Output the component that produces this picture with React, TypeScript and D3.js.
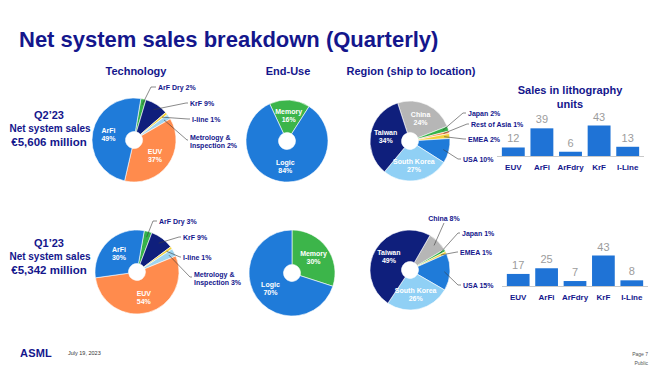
import React from "react"
import * as d3 from "d3"

// chart values
const techLabels = ["ArF Dry", "KrF", "I-line", "Metrology & Inspection", "EUV", "ArFi"]
const techQ2 = [2, 9, 1, 2, 37, 49]
const techQ1 = [3, 9, 1, 3, 54, 30]
const techColors = ["#35b24a", "#0f1f7c", "#f3d23c", "#9fd4ef", "#ff8b4d", "#1f7bd9"]

const endUseLabels = ["Memory", "Logic"]
const endUseQ2 = [16, 84]
const endUseQ1 = [30, 70]
const endUseColors = ["#3cb54a", "#1f7bd9"]

const regionLabelsQ2 = ["China", "Japan", "Rest of Asia", "EMEA", "USA", "South Korea", "Taiwan"]
const regionQ2 = [24, 2, 1, 2, 10, 27, 34]
const regionColorsQ2 = ["#b6b6b6", "#35b24a", "#ff8b4d", "#f3d23c", "#1f7bd9", "#90d0f5", "#0f1f7c"]
const regionLabelsQ1 = ["China", "Japan", "EMEA", "USA", "South Korea", "Taiwan"]
const regionQ1 = [8, 1, 1, 15, 26, 49]
const regionColorsQ1 = ["#b6b6b6", "#35b24a", "#f3d23c", "#1f7bd9", "#90d0f5", "#0f1f7c"]

const unitCategories = ["EUV", "ArFi", "ArFdry", "KrF", "I-Line"]
const unitsQ2 = [12, 39, 6, 43, 13]
const unitsQ1 = [17, 25, 7, 43, 8]

const NAVY = "#14168c"
const FONT = "'Liberation Sans', Arial, sans-serif"

const rad = a => (a * Math.PI) / 180

// a donut with inside labels and outside leader labels
const Donut = ({ cx, cy, r, values, labels, colors, start, inside, outside }) => {
  const pie = d3.pie().sort(null).value(d => d).startAngle(rad(start)).endAngle(rad(start) + 2 * Math.PI)
  const arcs = pie(values)
  const arc = d3.arc().innerRadius(8.5).outerRadius(r)
  const labelArc = d3.arc().innerRadius(r * 0.62).outerRadius(r * 0.62)
  const edgeArc = d3.arc().innerRadius(r * 0.86).outerRadius(r * 0.86)
  return (
    <g>
      <g transform={`translate(${cx},${cy})`}>
        {arcs.map((a, i) => (
          <path key={i} d={arc(a)} fill={colors[i]} stroke="#fff" strokeWidth={0.6} />
        ))}
        {arcs.map((a, i) => {
          if (!inside.includes(i)) return null
          const [x, y] = labelArc.centroid(a)
          return (
            <text key={"t" + i} x={x} y={y} fill="#fff" fontSize={7} fontWeight="bold" textAnchor="middle">
              <tspan x={x} dy={-1.5}>{labels[i]}</tspan>
              <tspan x={x} dy={8}>{values[i]}%</tspan>
            </text>
          )
        })}
      </g>
      {outside.map(o => {
        const [sx, sy] = edgeArc.centroid(arcs[o.i])
        const lines = o.lines || [`${labels[o.i]} ${values[o.i]}%`]
        const anchor = o.anchor || "start"
        const tx = anchor === "middle" ? o.ex : o.tx
        return (
          <g key={"o" + o.i}>
            <polyline
              points={
                anchor === "middle"
                  ? `${cx + sx},${cy + sy} ${o.ex},${o.ey}`
                  : `${cx + sx},${cy + sy} ${o.ex},${o.ey} ${o.tx - 2},${o.ey}`
              }
              fill="none"
              stroke="#3a3a3a"
              strokeWidth={0.6}
            />
            {lines.map((l, k) => (
              <text key={k} x={tx} y={o.ty + 2.5 + k * 8} fill={NAVY} fontSize={7} fontWeight="bold" textAnchor={anchor}>
                {l}
              </text>
            ))}
          </g>
        )
      })}
    </g>
  )
}

const Bars = ({ values, x0, x1, base }) => {
  const x = d3.scaleBand().domain(unitCategories).range([x0, x1]).paddingInner(0.2).paddingOuter(0.1)
  const y = d3.scaleLinear().domain([0, 43]).range([base, base - 30.5])
  return (
    <g>
      {values.map((v, i) => (
        <g key={i}>
          <rect x={x(unitCategories[i])} y={y(v)} width={x.bandwidth()} height={base - y(v)} fill="#1f73d6" />
          <text x={x(unitCategories[i]) + x.bandwidth() / 2} y={y(v) - 5} fontSize={11} fill="#9c9c9c" textAnchor="middle">
            {v}
          </text>
          <text x={x(unitCategories[i]) + x.bandwidth() / 2} y={base + 14} fontSize={8} fontWeight="bold" fill={NAVY} textAnchor="middle">
            {unitCategories[i]}
          </text>
        </g>
      ))}
      <line x1={x0 - 2} x2={x1 + 2} y1={base + 0.5} y2={base + 0.5} stroke="#c9c9c9" strokeWidth={1} />
    </g>
  )
}

const QuarterText = ({ q, amount, y }) => (
  <g fill={NAVY} fontWeight="bold" textAnchor="middle">
    <text x={49} y={y} fontSize={11}>{q}</text>
    <text x={50} y={y + 13} fontSize={10}>Net system sales</text>
    <text x={49} y={y + 27} fontSize={11.5}>{amount}</text>
  </g>
)

export default function App() {
  return (
    <svg width={656} height={369} style={{ position: "absolute", left: 0, top: 0, background: "#fff" }} fontFamily={FONT}>
      <rect width={656} height={369} fill="#fff" />
      <text x={19} y={47} fontSize={22} fontWeight="bold" fill={NAVY}>
        Net system sales breakdown (Quarterly)
      </text>
      <g fontSize={11} fontWeight="bold" fill={NAVY} textAnchor="middle">
        <text x={136} y={75}>Technology</text>
        <text x={288} y={75}>End-Use</text>
        <text x={411} y={75}>Region (ship to location)</text>
        <text x={570} y={94}>Sales in lithography</text>
        <text x={570} y={108}>units</text>
      </g>

      <QuarterText q="Q2’23" amount="€5,606 million" y={119} />
      <QuarterText q="Q1’23" amount="€5,342 million" y={247} />

      <Donut
        cx={134} cy={140} r={42} values={techQ2} labels={techLabels} colors={techColors} start={9.4}
        inside={[4, 5]}
        outside={[
          { i: 0, ex: 151, ey: 87, tx: 158, ty: 87 },
          { i: 1, ex: 186, ey: 103, tx: 190, ty: 103 },
          { i: 2, ex: 188, ey: 119, tx: 192, ty: 119 },
          { i: 3, ex: 187, ey: 140, tx: 190, ty: 137, lines: ["Metrology &", `Inspection ${techQ2[3]}%`] },
        ]}
      />
      <Donut
        cx={137} cy={272} r={42} values={techQ1} labels={techLabels} colors={techColors} start={10}
        inside={[4, 5]}
        outside={[
          { i: 0, ex: 153, ey: 221, tx: 159, ty: 221 },
          { i: 1, ex: 179, ey: 237, tx: 183, ty: 237 },
          { i: 2, ex: 180, ey: 257, tx: 183, ty: 257 },
          { i: 3, ex: 190, ey: 277, tx: 194, ty: 274, lines: ["Metrology &", `Inspection ${techQ1[3]}%`] },
        ]}
      />

      <Donut cx={287} cy={141} r={41} values={endUseQ2} labels={endUseLabels} colors={endUseColors} start={-25} inside={[0, 1]} outside={[]} />
      <Donut cx={292} cy={273} r={43} values={endUseQ1} labels={endUseLabels} colors={endUseColors} start={0} inside={[0, 1]} outside={[]} />

      <Donut
        cx={410} cy={141} r={40} values={regionQ2} labels={regionLabelsQ2} colors={regionColorsQ2} start={-18}
        inside={[0, 5, 6]}
        outside={[
          { i: 1, ex: 463, ey: 113, tx: 468, ty: 113 },
          { i: 2, ex: 467, ey: 124, tx: 471, ty: 124 },
          { i: 3, ex: 464, ey: 139, tx: 468, ty: 139 },
          { i: 4, ex: 458, ey: 159, tx: 463, ty: 159 },
        ]}
      />
      <Donut
        cx={410} cy={270} r={40} values={regionQ1} labels={regionLabelsQ1} colors={regionColorsQ1} start={30}
        inside={[4, 5]}
        outside={[
          { i: 0, ex: 444, ey: 223, ty: 218, anchor: "middle" },
          { i: 1, ex: 458, ey: 233, tx: 462, ty: 233 },
          { i: 2, ex: 457, ey: 252, tx: 460, ty: 252 },
          { i: 3, ex: 458, ey: 285, tx: 463, ty: 285 },
        ]}
      />

      <Bars values={unitsQ2} x0={499} x1={642} base={156} />
      <Bars values={unitsQ1} x0={504} x1={646} base={286} />

      <text x={20} y={357} fontSize={11} fontWeight="bold" fill={NAVY} letterSpacing={0.2}>ASML</text>
      <text x={68} y={355} fontSize={5.5} fill="#333">July 19, 2023</text>
      <g fontSize={5} fill="#555" textAnchor="end">
        <text x={648} y={356}>Page 7</text>
        <text x={648} y={365}>Public</text>
      </g>
    </svg>
  )
}
